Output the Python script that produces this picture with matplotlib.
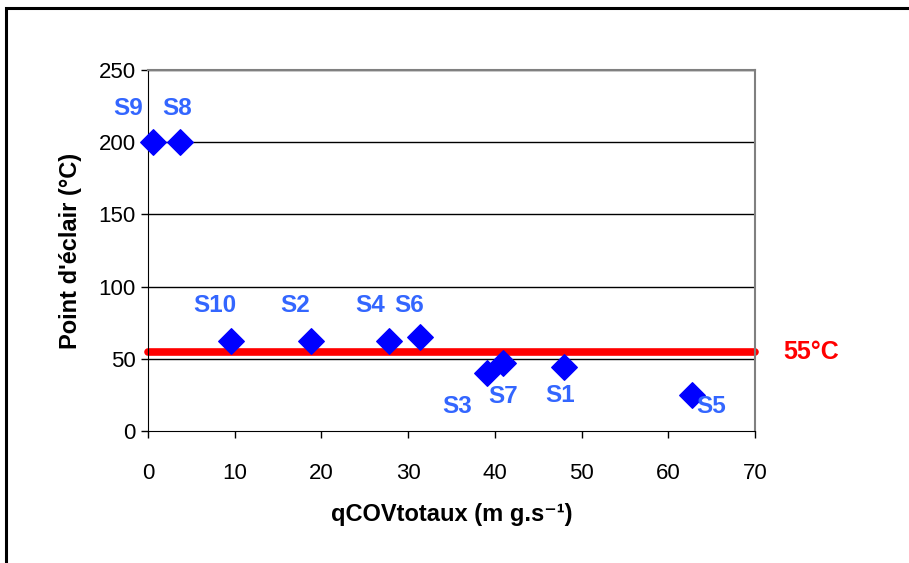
import matplotlib
matplotlib.use("Agg")
import matplotlib.pyplot as plt
from matplotlib.patches import Rectangle

names = ["S9", "S8", "S10", "S2", "S4", "S6", "S3", "S7", "S1", "S5"]
x_vals = [0.6, 3.7, 9.6, 18.8, 27.8, 31.4, 39.1, 40.9, 48.0, 62.7]
y_vals = [200, 200, 62, 62, 62, 65, 40, 47, 44, 25]
label_dx = [-2.9, -0.3, -1.9, -1.8, -2.2, -1.3, -3.5, 0.0, -0.5, 2.3]
label_dy = [23, 23, 25, 25, 25, 22, -23, -23, -19.5, -8]
threshold = 55
x_ticks = [0, 10, 20, 30, 40, 50, 60, 70]
y_ticks = [0, 50, 100, 150, 200, 250]

plt.rcParams["font.family"] = ["Liberation Sans", "DejaVu Sans"]

fig = plt.figure(figsize=(9.09, 5.63), dpi=100)
fig.patches.append(Rectangle((6/909, -0.1), 1.2, 1 - 8/563 + 0.1, transform=fig.transFigure,
                             fill=False, edgecolor="black", linewidth=2.2))
ax = fig.add_axes([148/909, 1 - 431/563, (755 - 148)/909, (431 - 70)/563])
ax.set_xlim(0, 70)
ax.set_ylim(0, 250)
ax.set_xticks(x_ticks)
ax.set_yticks(y_ticks)
ax.tick_params(axis="both", direction="out", length=5, width=1, labelsize=16, pad=4)
ax.tick_params(axis="x", pad=18)
for yv in y_ticks[1:]:
    ax.axhline(yv, color="black", linewidth=1, zorder=1)
for s in ["top", "right"]:
    ax.spines[s].set_color("#808080")
    ax.spines[s].set_linewidth(1.5)
ax.spines["left"].set_color("black")
ax.spines["bottom"].set_color("black")

ax.plot([0, 70], [threshold, threshold], color="#FF0000", linewidth=5.5,
        solid_capstyle="round", zorder=2, clip_on=False)
ax.scatter(x_vals, y_vals, marker="D", s=13**2, color="#0000FF", zorder=3, clip_on=False)
for n, xv, yv, dx, dy in zip(names, x_vals, y_vals, label_dx, label_dy):
    ax.text(xv + dx, yv + dy, n, color="#3366FF", fontsize=17.5, fontweight="bold",
            ha="center", va="center")
ax.text(76.5, threshold, "55°C", color="#FF0000", fontsize=18, fontweight="bold",
        ha="center", va="center")

ax.set_ylabel("Point d'éclair (°C)", fontsize=17, fontweight="bold", labelpad=12)
ax.set_xlabel("qCOVtotaux (m g.s⁻¹)", fontsize=17, fontweight="bold", labelpad=14)

fig.savefig("out.png", dpi=100)
